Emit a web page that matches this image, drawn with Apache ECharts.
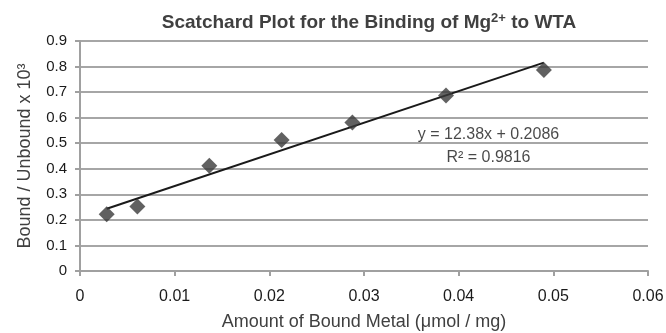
<!DOCTYPE html>
<html><head><meta charset="utf-8">
<script src="https://cdn.jsdelivr.net/npm/echarts@6/dist/echarts.min.js"></script>
<style>html,body{margin:0;padding:0;background:#fff}#c{width:666px;height:333px}</style>
</head><body><div id="c"></div>
<script>
const boundX = [0.00282, 0.00606, 0.01366, 0.0213, 0.02877, 0.03866, 0.0490];
const ratioY = [0.222, 0.252, 0.412, 0.513, 0.581, 0.687, 0.787];
const slope = 12.38, intercept = 0.2086;
const eqLabel = ['y = 12.38x + 0.2086', 'R² = 0.9816'];
const eqPos = [0.04315, 0.488];

const pts = boundX.map((x, i) => [x, ratioY[i]]);
const xMin = boundX[0], xMax = boundX[boundX.length - 1];
const trend = [[xMin, slope * xMin + intercept], [xMax, slope * xMax + intercept]];

const chart = echarts.init(document.getElementById('c'));
const font = 'Liberation Sans, Arial, sans-serif';
chart.setOption({
  animation: false,
  title: {
    text: '{t|Scatchard Plot for the Binding of Mg}{s|2+}{t| to WTA}',
    left: 364, top: 7, textAlign: 'center',
    textStyle: {
      rich: {
        t: {fontFamily: font, fontWeight: 'bold', fontSize: 19, color: '#404040'},
        s: {fontFamily: font, fontWeight: 'bold', fontSize: 13, color: '#404040', verticalAlign: 'top', padding: [0,0,8,0]}
      }
    }
  },
  grid: {left: 80, right: 18, top: 41, bottom: 62, containLabel: false, outerBoundsMode: 'none'},
  xAxis: {
    type: 'value', min: 0, max: 0.06, interval: 0.01,
    name: 'Amount of Bound Metal (μmol / mg)', nameLocation: 'middle', nameGap: 42,
    nameTextStyle: {fontFamily: font, fontSize: 18, color: '#404040'},
    axisLine: {lineStyle: {color: '#a0a0a0', width: 2}},
    axisTick: {show: true, length: 5, lineStyle: {color: '#a0a0a0', width: 2}},
    axisLabel: {fontFamily: font, fontSize: 16, color: '#1a1a1a', margin: 18},
    splitLine: {show: false}
  },
  yAxis: {
    type: 'value', min: 0, max: 0.9, interval: 0.1,
    name: 'Bound / Unbound x 10³', nameLocation: 'middle', nameGap: 46,
    nameTextStyle: {fontFamily: font, fontSize: 18, color: '#404040'},
    axisLine: {show: true, lineStyle: {color: '#a0a0a0', width: 2}},
    axisTick: {show: true, length: 5, lineStyle: {color: '#a0a0a0', width: 2}},
    axisLabel: {fontFamily: font, fontSize: 15, color: '#1a1a1a', margin: 13,
      formatter: v => String(Math.round(v * 10) / 10)},
    splitLine: {show: true, lineStyle: {color: '#a6a6a6', width: 2}}
  },
  series: [
    {
      type: 'line', data: trend, symbol: 'none', z: 3,
      lineStyle: {color: '#1a1a1a', width: 2}
    },
    {
      type: 'scatter', data: pts, symbol: 'diamond', symbolSize: 16, z: 4,
      itemStyle: {color: '#3a3a3a'}
    },
    {
      type: 'scatter', data: [eqPos], symbolSize: 0, z: 5, silent: true,
      label: {show: true, position: 'inside', formatter: eqLabel.join('\n'),
        fontFamily: font, fontSize: 16, lineHeight: 23, color: '#1a1a1a', align: 'center'}
    }
  ]
});
</script></body></html>
